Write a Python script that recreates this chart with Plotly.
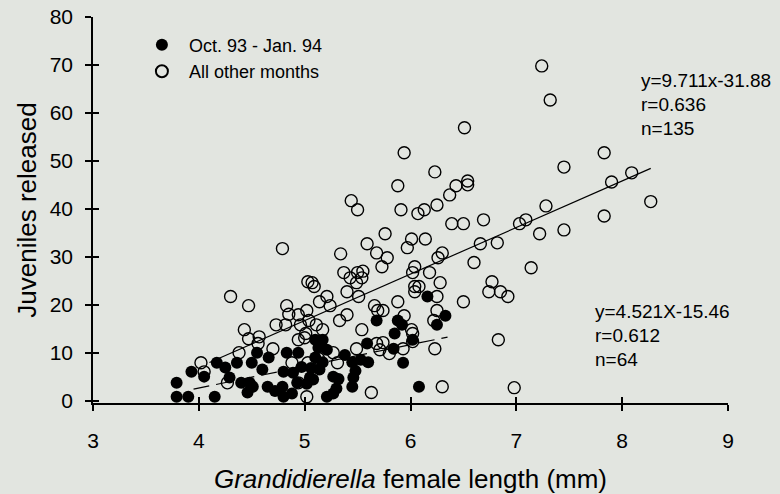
import numpy as np
import plotly.graph_objects as go

# Oct. 93 - Jan. 94 (filled)
oct_x = [3.79, 3.79, 3.90, 4.15, 3.93, 4.05, 4.17, 4.25, 4.29, 4.36, 4.40, 4.50, 4.55, 4.66,
         4.48, 4.51, 4.46, 4.65, 4.83, 4.94, 4.80, 4.89, 4.79, 4.80, 4.93, 4.88, 5.10, 5.17,
         5.21, 5.13, 5.10, 5.17, 5.14, 5.06, 5.05, 5.02, 5.08, 5.27, 5.32, 5.30, 5.21, 5.45,
         5.53, 5.60, 5.48, 5.46, 5.45, 5.68, 5.88, 5.92, 5.85, 6.02, 5.59, 5.84, 5.93, 6.08,
         6.16, 6.33, 6.25, 4.72, 4.97, 5.27, 4.60, 5.38]
oct_y = [3.7, 0.8, 0.8, 0.8, 6.0, 5.0, 7.9, 6.9, 4.8, 7.9, 3.7, 7.9, 10.0, 9.0,
         3.7, 2.9, 1.7, 2.9, 10.0, 10.0, 6.0, 5.8, 2.9, 0.8, 3.7, 1.5, 12.7, 12.7,
         10.6, 11.0, 9.0, 8.0, 6.5, 6.8, 4.8, 3.5, 4.4, 5.0, 4.5, 2.5, 0.8, 8.0,
         8.5, 8.0, 6.2, 4.8, 2.9, 16.7, 16.7, 15.8, 14.0, 12.7, 11.9, 10.8, 7.9, 2.9,
         21.7, 17.7, 15.8, 2.0, 7.0, 1.5, 6.5, 9.5]

# All other months (open)
oth_x = [7.24, 7.32, 7.83, 7.45, 7.90, 8.09, 7.28, 8.27, 7.83, 7.45, 7.22, 7.03, 7.09, 7.14,
         6.98, 6.69, 6.66, 6.60, 6.82, 6.77, 6.74, 6.85, 6.92, 6.83,
         6.51, 6.23, 6.54, 6.54, 6.43, 6.37, 6.25, 6.07, 6.13, 6.39, 6.50, 6.14, 6.01, 5.97,
         6.30, 6.26, 6.04, 6.02, 6.18, 6.04, 6.08, 6.04, 6.28, 6.25, 6.50, 6.25, 6.22, 6.01,
         6.02, 6.23, 6.30,
         5.94, 5.88, 5.91, 5.76, 5.59, 5.68, 5.78, 5.73, 5.50, 5.44, 5.88, 5.66, 5.69, 5.74,
         5.94, 5.54, 5.68, 5.80, 5.93, 5.49, 5.63, 5.51, 5.55, 5.37, 5.43, 5.50, 5.49, 5.40,
         5.34, 5.40, 5.33, 5.31, 5.27,
         5.03, 5.07, 5.09, 5.21, 5.14, 5.24, 5.02, 4.94, 4.96, 5.04, 5.11, 5.01, 5.17, 4.94,
         5.03, 5.02, 4.94, 5.00,
         4.79, 4.30, 4.47, 4.83, 4.73, 4.82, 4.43, 4.47, 4.57, 4.56, 4.70, 4.38, 4.02, 4.05,
         4.88, 4.27, 4.85, 6.02, 5.74, 5.71, 5.13, 5.54]
oth_y = [69.8, 62.7, 51.7, 48.7, 45.6, 47.5, 40.6, 41.5, 38.5, 35.6, 34.8, 36.9, 37.7, 27.7,
         2.7, 37.7, 32.7, 28.8, 32.9, 24.8, 22.7, 22.7, 21.7, 12.7,
         56.9, 47.7, 45.8, 45.0, 44.8, 42.9, 40.8, 39.0, 39.8, 36.9, 36.9, 33.7, 33.7, 31.9,
         30.8, 29.8, 27.9, 26.7, 26.7, 23.8, 23.8, 22.7, 24.6, 21.7, 20.6, 18.8, 16.7, 14.8,
         14.0, 10.8, 2.9,
         51.7, 44.8, 39.8, 34.8, 32.7, 30.8, 29.8, 27.9, 39.8, 41.7, 20.6, 19.8, 18.8, 18.8,
         17.7, 14.8, 11.9, 9.8, 10.8, 10.8, 1.7, 21.7, 27.0, 26.7, 25.6, 26.7, 24.6, 22.7,
         30.6, 17.9, 16.7, 7.9, 10.0,
         24.8, 24.6, 23.8, 21.7, 20.6, 19.8, 18.8, 17.9, 15.8, 16.7, 15.8, 14.0, 14.8, 12.7,
         7.9, 0.8, 3.7, 13.1,
         31.7, 21.7, 19.8, 19.8, 15.8, 15.8, 14.8, 12.9, 13.3, 11.9, 10.8, 10.0, 7.9, 6.0,
         7.9, 3.7, 18.0, 12.3, 12.1, 10.6, 8.8, 25.6]

# regression lines (from printed equations): slope, intercept, x start, x end
fit_all = (9.711, -31.88, 4.10, 8.27)
fit_oct = (4.521, -15.46, 3.95, 6.35)

x_ticks = [3, 4, 5, 6, 7, 8, 9]
y_ticks = [0, 10, 20, 30, 40, 50, 60, 70, 80]
x_range = [3, 9]
y_range = [-0.5, 80]

FONT = "Liberation Sans, Arial, sans-serif"
BG = "#e2e5e0"
ML, MR, MT, MB = 93, 52, 17, 91
W, H = 780, 494

fig = go.Figure()

fig.add_trace(go.Scatter(
    x=oth_x, y=oth_y, mode="markers", name="All other months",
    marker=dict(symbol="circle-open", size=12, color="black", line=dict(width=1.4, color="black")),
))
fig.add_trace(go.Scatter(
    x=oct_x, y=oct_y, mode="markers", name="Oct. 93 - Jan. 94",
    marker=dict(symbol="circle", size=12, color="black"),
))

a, b, x0, x1 = fit_all
lx = np.linspace(x0, x1, 50)
fig.add_trace(go.Scatter(x=lx, y=a * lx + b, mode="lines", showlegend=False,
                         line=dict(color="black", width=1.2)))
a, b, x0, x1 = fit_oct
lx = np.linspace(x0, x1, 50)
fig.add_trace(go.Scatter(x=lx, y=a * lx + b, mode="lines", showlegend=False,
                         line=dict(color="black", width=1.2, dash="16px,7px")))

# invisible trace on overlay axes (gives the inward half of the crossing ticks)
fig.add_trace(go.Scatter(x=[3], y=[-10], xaxis="x2", yaxis="y2", mode="markers",
                         marker=dict(size=1, opacity=0), showlegend=False, hoverinfo="skip"))

axis_common = dict(showgrid=False, zeroline=False, linecolor="black", linewidth=1.5,
                   tickcolor="black", tickwidth=1.5, ticklen=6, type="linear",
                   automargin=False)

fig.update_layout(
    width=W, height=H,
    margin=dict(l=ML, r=MR, t=MT, b=MB, autoexpand=False),
    paper_bgcolor=BG, plot_bgcolor=BG,
    font=dict(family=FONT, color="black"),
    showlegend=True,
    legend=dict(x=0.066, y=0.975, xanchor="left", yanchor="top", bgcolor="rgba(0,0,0,0)",
                font=dict(size=18, family=FONT), traceorder="reversed", itemsizing="constant",
                itemwidth=44, tracegroupgap=0),
    xaxis=dict(range=x_range, tickvals=x_ticks, ticks="outside", showline=True,
               tickfont=dict(size=21), ticklabelstandoff=12,
               title=dict(text="<i>Grandidierella</i> female length (mm)",
                          font=dict(size=26), standoff=20),
               **axis_common),
    yaxis=dict(range=y_range, tickvals=y_ticks, ticks="outside", showline=True,
               tickfont=dict(size=21), ticklabelstandoff=8,
               title=dict(text="Juveniles released", font=dict(size=26), standoff=6),
               **axis_common),
    xaxis2=dict(range=x_range, tickvals=x_ticks, ticks="inside", overlaying="x", anchor="y",
                side="bottom", showticklabels=False, showline=False, **axis_common),
    yaxis2=dict(range=y_range, tickvals=y_ticks, ticks="inside", overlaying="y", anchor="x",
                side="left", showticklabels=False, showline=False, **axis_common),
)


def px_to_paper(px, py):
    return (px - ML) / (W - ML - MR), (H - MB - py) / (H - MT - MB)


for (px, py), lines in [((641, 80), ["y=9.711x-31.88", "r=0.636", "n=135"]),
                        ((595, 311), ["y=4.521X-15.46", "r=0.612", "n=64"])]:
    for i, t in enumerate(lines):
        xx, yy = px_to_paper(px, py + i * 24)
        fig.add_annotation(x=xx, y=yy, xref="paper", yref="paper", text=t, showarrow=False,
                           xanchor="left", yanchor="middle", xshift=-2,
                           font=dict(size=19, family=FONT))

fig.write_html("out.html")
